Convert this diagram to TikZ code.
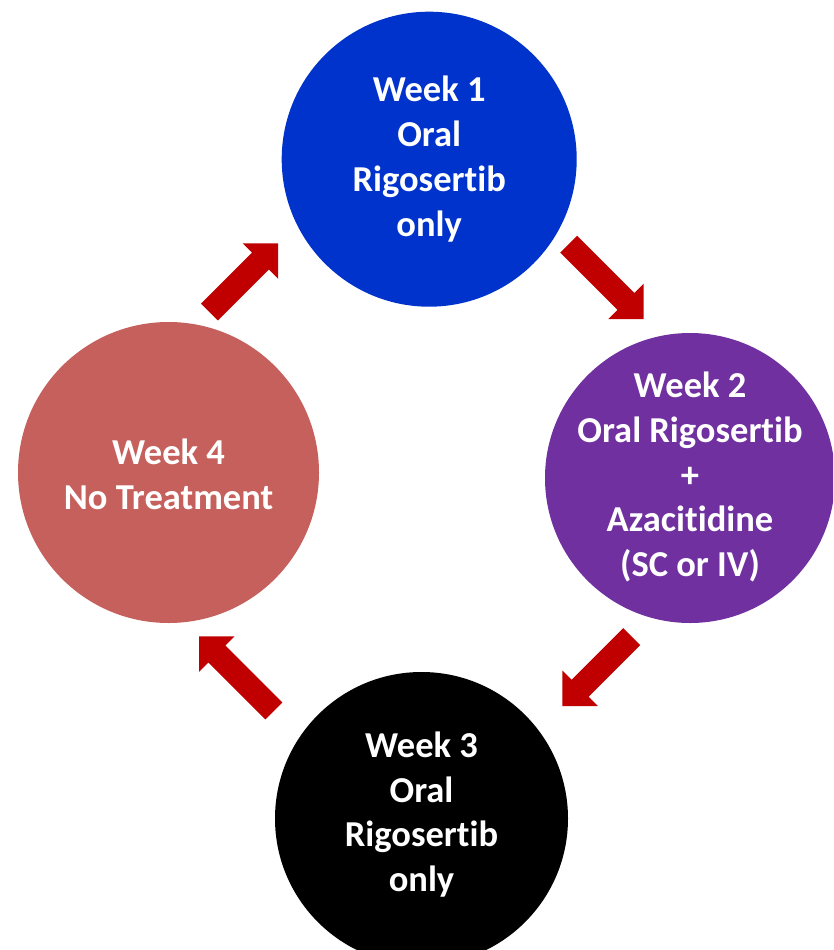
\documentclass[tikz,border=0pt]{standalone}
\usepackage{fontspec}
\setmainfont{Carlito}[Ligatures={NoCommon,NoRequired,NoContextual},Contextuals=NoAlternate]
\definecolor{wkblue}{RGB}{0,51,204}
\definecolor{wkpurple}{RGB}{112,48,160}
\definecolor{wkred}{RGB}{197,96,93}
\definecolor{arrowred}{RGB}{192,0,0}
\newcommand{\blockarr}[3]{%
  \begin{scope}[shift={(#1)},rotate=#2]
    \fill[arrowred] (0,-12) -- ({#3-25},-12) -- ({#3-25},-25) -- (#3,0)
      -- ({#3-25},25) -- ({#3-25},12) -- (0,12) -- cycle;
  \end{scope}}
\begin{document}
\begin{tikzpicture}[x=1pt,y=-1pt,
  wk/.style={circle,inner sep=0pt,draw=none},
  wktext/.style={inner sep=0pt,text=white,align=center,
    font=\bfseries\fontsize{36.5}{44.8}\selectfont}]
\useasboundingbox (0,0) rectangle (833,950);
\clip (0,0) rectangle (833,950);
\fill[white] (0,0) rectangle (833,950);
\node[wk,fill=wkblue,minimum size=295pt] (w1) at (429.2,159.2) {};
\node[wk,fill=wkpurple,minimum size=290pt] (w2) at (690,478) {};
\node[wk,fill=black,minimum size=293pt] (w3) at (421.5,818.5) {};
\node[wk,fill=wkred,minimum size=301pt] (w4) at (168.5,472.5) {};
\node[wktext] (w1t) at (w1.center) {Week 1\\Oral\hspace*{8pt}\\Rigosertib\\only};
\node[wktext] (w2t) at ([yshift=1pt]w2.center) {Week 2\\Oral Rigosertib\\+\\Azacitidine\\(SC or IV)};
\node[wktext] (w3t) at ([yshift=4pt]w3.center) {Week 3\\Oral\hspace*{8pt}\\Rigosertib\\only};
\node[wktext] (w4t) at ([yshift=-2pt]w4.center) {Week 4\\No Treatment};
\coordinate (t1) at (568.7,244.2);
\coordinate (t2) at (209.5,312);
\coordinate (t3) at (273.8,711);
\coordinate (t4) at (631.7,636.7);
\blockarr{t1}{-45}{106}
\blockarr{t2}{45}{97}
\blockarr{t3}{135}{105.5}
\blockarr{t4}{-135}{98}
\end{tikzpicture}
\end{document}
